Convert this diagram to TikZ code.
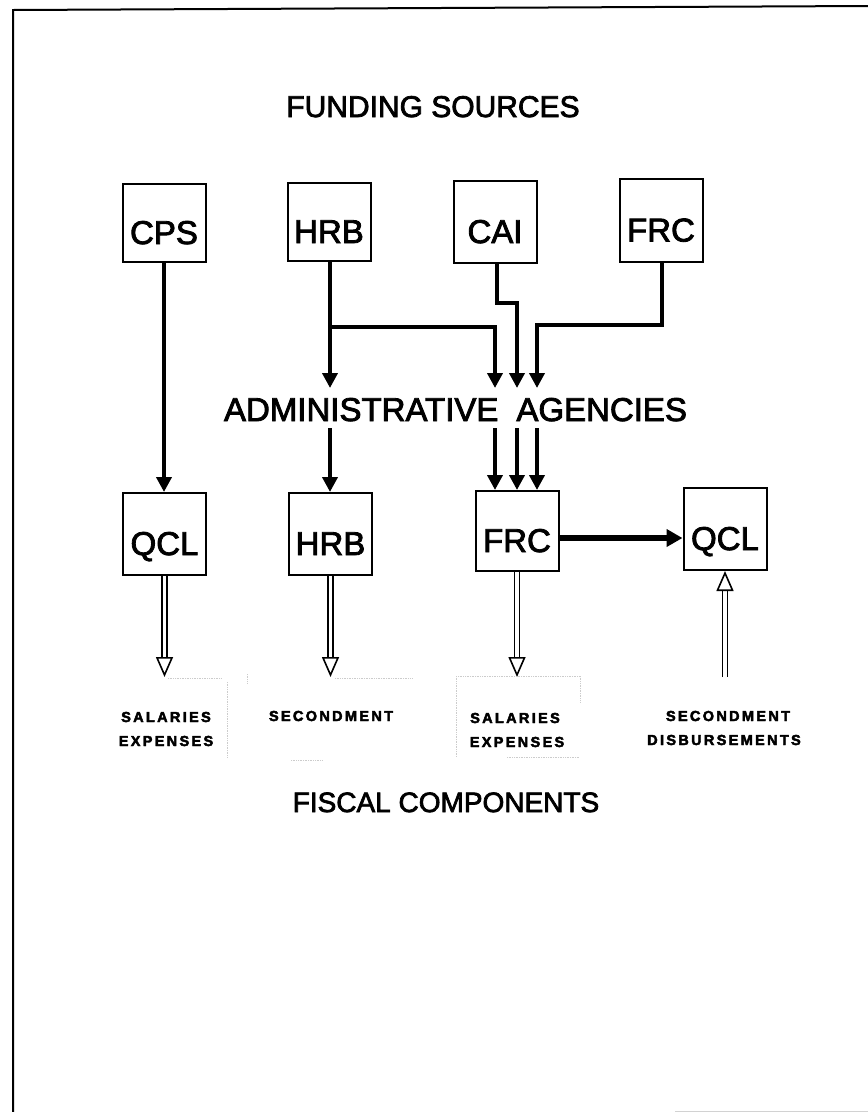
\documentclass[tikz,border=0pt]{standalone}
\usepackage{fontspec}
\setmainfont{Liberation Sans}
\newfontfamily\medfont[FakeBold=2.5]{Liberation Sans}
\newfontfamily\blackfont[FakeBold=3,LetterSpace=16]{Liberation Sans Bold}
\usetikzlibrary{arrows.meta}
\begin{document}
\begin{tikzpicture}[x=1pt,y=-1pt,line join=miter,
  box/.style={draw, line width=2pt, minimum width=83pt, minimum height=80pt, inner sep=0pt,
    text height=50pt, text depth=8pt, font=\medfont\fontsize{33}{36}\selectfont},
  title/.style={inner sep=0pt, anchor=base},
  small/.style={inner sep=0pt, anchor=base, font=\blackfont\fontsize{14.5}{17}\selectfont},
  flow/.style={line width=4pt, -{Triangle[width=15pt,length=15pt]}},
  bigflow/.style={line width=5.5pt, -{Triangle[width=17pt,length=16pt]}},
  hollow/.style={line width=1.6pt, double=white, double distance=3.6pt,
    -{Triangle[open, width=17pt, length=20pt, line width=1.6pt]}},
  faint/.style={gray!40, densely dotted, line width=0.7pt}]
\useasboundingbox (0,0) rectangle (868,1112);
\fill[white] (0,0) rectangle (868,1112);

% frame
\draw[line width=2pt] (868,6) -- (13,10) -- (13,1112);
\draw[gray!35, line width=1pt] (675,1111) -- (868,1111);

% titles
\node[title, font=\medfont\fontsize{30}{34}\selectfont] (fund) at (433,117) {FUNDING SOURCES};
\node[title, font=\medfont\fontsize{33}{36}\selectfont] (admin) at (455.5,421) {ADMINISTRATIVE\hspace{18pt}AGENCIES};
\node[title, font=\medfont\fontsize{28}{32}\selectfont] (fisc) at (446,812) {FISCAL COMPONENTS};

% funding source boxes
\node[box, minimum height=78pt] (cps) at (164,223) {CPS};
\node[box, minimum height=78pt] (hrbA) at (329,222) {HRB};
\node[box, minimum height=82pt] (cai) at (495,222) {CAI};
\node[box, minimum height=83pt] (frcA) at (661,220.5) {FRC};

% fiscal component boxes
\node[box, minimum height=82pt] (qclA) at (164.5,534) {QCL};
\node[box, minimum height=82pt] (hrbB) at (330.5,534) {HRB};
\node[box, minimum height=80pt] (frcB) at (517,531) {FRC};
\node[box, minimum height=82pt] (qclB) at (725,529) {QCL};

% junctions and arrow ends
\coordinate (j1) at (330,327);
\coordinate (j3) at (517,303);
\coordinate (j4) at (537,325);
\coordinate (t1) at (330,388);
\coordinate (t2) at (495,388);
\coordinate (t3) at (517,388);
\coordinate (t4) at (537,388);
\coordinate (b1) at (330,428);
\coordinate (b2) at (495,428);
\coordinate (b3) at (517,428);
\coordinate (b4) at (537,428);
\coordinate (e1) at (164.5,677);
\coordinate (e2) at (330.5,677);
\coordinate (e3) at (517,677);
\coordinate (e4) at (725,677);

% funding flows
\draw[flow] (cps.south) -- (cps.south |- qclA.north);
\draw[flow] ([xshift=1pt]hrbA.south) -- (t1);
\draw[flow] (j1) -| (t2);
\draw[flow] ([xshift=2pt]cai.south) |- (j3) -- (t3);
\draw[flow] ([xshift=1pt]frcA.south) |- (j4) -- (t4);

\draw[flow] (b1) -- (b1 |- hrbB.north);
\draw[flow] (b2) -- (b2 |- frcB.north);
\draw[flow] (b3) -- (b3 |- frcB.north);
\draw[flow] (b4) -- (b4 |- frcB.north);

\draw[bigflow] ([yshift=-7pt]frcB.east) -- ([yshift=-7pt]frcB.east -| qclB.west);

% hollow arrows
\draw[hollow] (qclA.south) -- (e1);
\draw[hollow] (hrbB.south) -- (e2);
\draw[hollow] (frcB.south) -- (e3);
\draw[hollow] (e4) -- (qclB.south);

% component labels
\node[small] (salA) at (166,722) {SALARIES};
\node[small] (expA) at (166,746) {EXPENSES};
\node[small] (secA) at (331,721) {SECONDMENT};
\node[small] (salB) at (515,723) {SALARIES};
\node[small] (expB) at (517,747) {EXPENSES};
\node[small] (secB) at (728,721) {SECONDMENT};
\node[small] (dis) at (724,745) {DISBURSEMENTS};

% faint scan traces
\draw[faint] (168,678) -- (222,678);
\draw[faint] (227,682) -- (227,757);
\draw[faint] (335,678) -- (413,678);
\draw[faint] (247,674) -- (247,684);
\draw[faint] (456,676) -- (456,757);
\draw[faint] (458,676) -- (580,676);
\draw[faint] (580,676) -- (580,703);
\draw[faint] (507,757) -- (580,757);
\draw[faint] (291,760) -- (323,760);
\end{tikzpicture}
\end{document}
